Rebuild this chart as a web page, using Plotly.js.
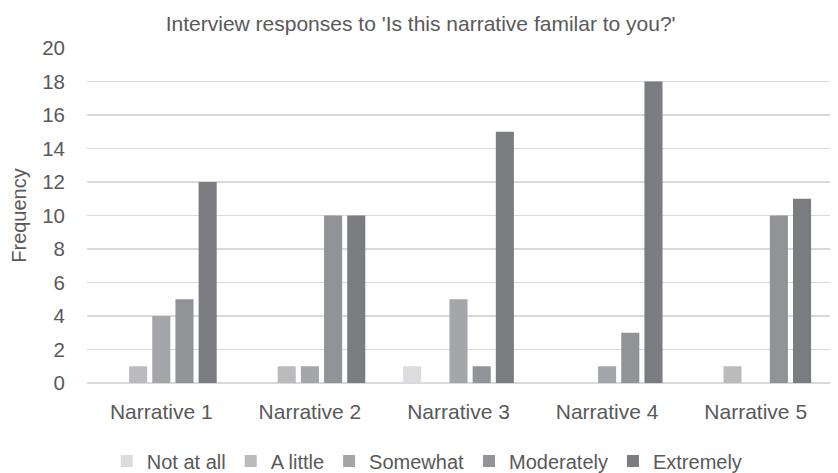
<!DOCTYPE html>
<html>
<head>
<meta charset="utf-8">
<script src="https://cdn.plot.ly/plotly-3.0.1.min.js"></script>
<style>html,body{margin:0;padding:0;background:#fff;}#chart{width:838px;height:473px;}</style>
</head>
<body>
<div id="chart"></div>
<script>
const categories = ["Narrative 1", "Narrative 2", "Narrative 3", "Narrative 4", "Narrative 5"];
const seriesNames = ["Not at all", "A little", "Somewhat", "Moderately", "Extremely"];
const notAtAll   = [0, 0, 1, 0, 0];
const aLittle    = [1, 1, 0, 0, 1];
const somewhat   = [4, 1, 5, 1, 0];
const moderately = [5, 10, 1, 3, 10];
const extremely  = [12, 10, 15, 18, 11];
const colors = ["#DCDCDE", "#BBBBBE", "#A5A6A9", "#929397", "#7B7C80"];

const values = [notAtAll, aLittle, somewhat, moderately, extremely];
const traces = seriesNames.map((name, i) => ({
  type: "bar",
  name: name,
  x: categories,
  y: values[i],
  marker: {color: colors[i]},
  hoverinfo: "x+y+name"
}));

const layout = {
  width: 838, height: 473,
  margin: {l: 87, r: 8, t: 48, b: 90, autoexpand: false},
  paper_bgcolor: "#fff", plot_bgcolor: "#fff",
  font: {family: "Liberation Sans, Arial, sans-serif", color: "#595959", size: 20},
  title: {text: "Interview responses to 'Is this narrative familar to you?'", x: 0.502, xanchor: "center", xref: "container", y: 22, yref: "container", yanchor: "middle", font: {size: 21, color: "#595959"}},
  barmode: "group",
  bargap: 0.22,
  bargroupgap: 0.22,
  xaxis: {showgrid: false, showline: false, zeroline: false, ticks: "", tickfont: {size: 21, color: "#595959"}, ticklabelstandoff: 14},
  yaxis: {range: [0, 20], dtick: 2, showgrid: true, gridcolor: "#D9D9D9", gridwidth: 1.3, zeroline: true, zerolinecolor: "#D9D9D9", zerolinewidth: 1.3, showline: false, ticks: "", tickfont: {size: 20.5, color: "#595959"}, ticklabelstandoff: 21,
    title: {text: "Frequency", font: {size: 20, color: "#595959"}, standoff: 10}},
  legend: {orientation: "h", x: 0.458, xanchor: "center", y: -0.233, yanchor: "middle", font: {size: 20, color: "#595959"}, itemwidth: 30, tracegroupgap: 0},
  showlegend: true
};

Plotly.newPlot("chart", traces, layout, {displayModeBar: false, staticPlot: true});
</script>
</body>
</html>
